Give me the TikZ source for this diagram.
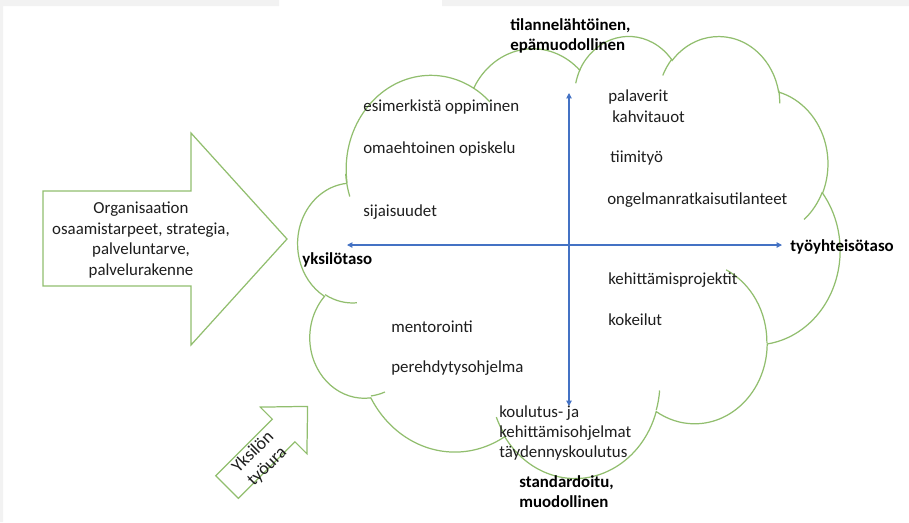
\documentclass[tikz,border=0pt]{standalone}
\usepackage{fontspec}
\setmainfont{Carlito}
\usepackage{tikz}
\usetikzlibrary{arrows.meta}
\usetikzlibrary{positioning}
\definecolor{cloudgreen}{RGB}{145,190,110}
\definecolor{axisblue}{RGB}{68,114,196}
\definecolor{framegray}{RGB}{242,242,242}
\definecolor{inktext}{RGB}{30,30,30}
\tikzset{item/.style={anchor=west,inner sep=0pt,text=inktext,font=\fontsize{9.6}{11.6}\selectfont}}
\tikzset{axislabel/.style={item,align=left,text=black,font=\fontsize{9.6}{11.3}\selectfont\bfseries}}
\tikzset{outline/.style={draw=cloudgreen,line width=0.7pt}}
\tikzset{axisline/.style={draw=axisblue,line width=0.6pt,{Triangle[length=3pt,width=3pt]}-{Triangle[length=3pt,width=3pt]}}}

\begin{document}
\begin{tikzpicture}[x=0.02cm,y=-0.02cm,
  declare function={ooang(\ang,\rx,\ry)=(\ang)+mod(atan2((\rx)*sin(\ang),(\ry)*cos(\ang))-(\ang)+540,360)-180;},
  ooarc/.style n args={4}{x radius=#1,y radius=#2,
    start angle={ooang(#3,#1,#2)},end angle={ooang(#3+#4,#1,#2)}}]
\useasboundingbox (0,0) rectangle (909,522);
\fill[framegray] (0,0) rectangle (279,6) (442,0) rectangle (909,6) (0,0) rectangle (3,522);

% organisation arrow
\draw[outline,fill=white] (43,191) -- (191,191) -- (191,133) -- (287,239) -- (191,345)
  -- (191,286) -- (43,286) -- cycle;
\node[item,anchor=center,align=center] (org) at (141,240)
  {Organisaation\\osaamistarpeet, strategia,\\palveluntarve,\\palvelurakenne};

% career arrow
\begin{scope}[shift={(227,487)},rotate=45]
\draw[outline,fill=white] (0,-16) -- (80,-16) -- (80,-33) -- (114,0) -- (80,33) -- (80,16)
  -- (0,16) -- cycle;
\node[item,anchor=center,align=center,rotate=45,font=\fontsize{10.2}{11.4}\selectfont]
  (career) at (43,4) {Yksilön\\työura};
\end{scope}

% cloud
\begin{scope}[shift={(298,35)},x=0.25093cm,y=-0.20463cm]
\draw[outline,fill=white] (3.900,14.370)
  arc[ooarc={6.753}{9.190}{-190.4875}{123.7805}]
  arc[ooarc={5.333}{7.267}{-144.1024}{89.9452}]
  arc[ooarc={4.365}{5.945}{-145.8079}{99.7230}]
  arc[ooarc={4.857}{6.595}{-130.9861}{117.2417}]
  arc[ooarc={5.333}{7.273}{-78.7089}{109.0269}]
  arc[ooarc={6.775}{9.220}{-46.2673}{130.2690}]
  arc[ooarc={5.785}{7.867}{0.6250}{114.0333}]
  arc[ooarc={6.752}{9.215}{22.4516}{115.1726}]
  arc[ooarc={7.720}{10.543}{66.2426}{75.7110}]
  arc[ooarc={4.360}{5.918}{-274.9421}{146.7356}]
  arc[ooarc={4.345}{5.945}{-246.8285}{152.5189}] -- cycle;
\draw[outline]
  (4.693,26.177) arc[ooarc={4.345}{5.945}{86.7420}{26.4295}]
  (6.928,34.899) arc[ooarc={4.360}{5.918}{73.6105}{11.4475}]
  (16.478,39.090) arc[ooarc={6.752}{9.215}{137.6242}{14.0811}]
  (28.827,34.751) arc[ooarc={6.752}{9.215}{6.4533}{15.9984}]
  (34.129,22.954) arc[ooarc={5.785}{7.867}{-70.2924}{70.9174}]
  (41.798,15.354) arc[ooarc={5.333}{7.273}{30.3180}{27.7515}]
  (38.324,5.426) arc[ooarc={4.857}{6.595}{-13.7443}{14.8589}]
  (29.078,3.952) arc[ooarc={4.857}{6.595}{-149.1815}{18.1954}]
  (22.141,4.720) arc[ooarc={4.365}{5.945}{-163.4943}{17.6864}]
  (14.000,5.192) arc[ooarc={6.753}{9.190}{-66.7070}{12.3194}]
  (4.127,15.789) arc[ooarc={6.753}{9.190}{155.6472}{18.5153}];
\end{scope}

% axes
\coordinate (up) at (569,93);
\coordinate (down) at (569,406);
\coordinate (left) at (347,245);
\coordinate (right) at (782,245);
\draw[axisline] (down) -- (up);
\draw[axisline] (left) -- (right);

\node[axislabel] (informal) at (510,36) {tilannelähtöinen,\\epämuodollinen};
\node[axislabel] (formal) at (519,492) {standardoitu,\\muodollinen};
\node[axislabel] (indiv) at (302,260) {yksilötaso};
\node[axislabel] (commun) at (790,247) {työyhteisötaso};

\node[item] (model) at (363,107) {esimerkistä oppiminen};
\node[item] (selfst) at (363,149) {omaehtoinen opiskelu};
\node[item] (subst) at (363,212) {sijaisuudet};
\node[item] (meet) at (608,97) {palaverit};
\node[item] (coffee) at (612,117) {kahvitauot};
\node[item] (team) at (610,158) {tiimityö};
\node[item] (probl) at (607,200) {ongelmanratkaisutilanteet};
\node[item] (devproj) at (608,280) {kehittämisprojektit};
\node[item] (trial) at (608,320) {kokeilut};
\node[item] (mentor) at (391,327) {mentorointi};
\node[item] (induct) at (391,368) {perehdytysohjelma};
\node[item,align=left] (train) at (499,433) {koulutus- ja\\kehittämisohjelmat\\täydennyskoulutus};
\end{tikzpicture}
\end{document}
